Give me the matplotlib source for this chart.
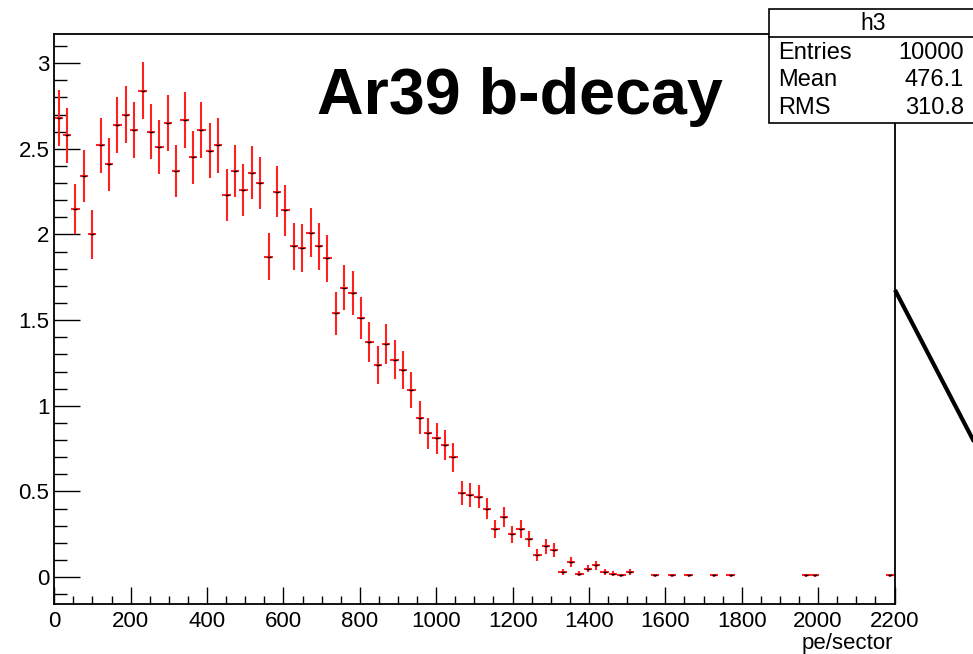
import numpy as np
import matplotlib
matplotlib.use("Agg")
import matplotlib.pyplot as plt
from matplotlib.ticker import MultipleLocator, FuncFormatter
from matplotlib.patches import Rectangle
from matplotlib.lines import Line2D
from matplotlib.transforms import blended_transform_factory

plt.rcParams['font.family'] = ['Liberation Sans', 'DejaVu Sans']

# histogram h3: 100 bins of 22 pe over 0..2200, contents
bin_width = 22.0
n_bins = 100
contents = [
    2.68, 2.58, 2.15, 2.34, 2.00, 2.52, 2.41, 2.64, 2.70, 2.61,
    2.84, 2.60, 2.51, 2.65, 2.37, 2.67, 2.45, 2.61, 2.49, 2.52,
    2.23, 2.37, 2.26, 2.36, 2.30, 1.87, 2.25, 2.14, 1.93, 1.92,
    2.01, 1.93, 1.86, 1.54, 1.69, 1.66, 1.51, 1.37, 1.24, 1.36,
    1.27, 1.21, 1.09, 0.93, 0.84, 0.81, 0.77, 0.70, 0.49, 0.48,
    0.47, 0.40, 0.28, 0.35, 0.25, 0.28, 0.22, 0.13, 0.18, 0.16,
    0.03, 0.09, 0.02, 0.05, 0.07, 0.03, 0.02, 0.01, 0.03, 0.00,
    0.00, 0.01, 0.00, 0.01, 0.00, 0.01, 0.00, 0.00, 0.01, 0.00,
    0.01, 0.00, 0.00, 0.00, 0.00, 0.00, 0.00, 0.00, 0.00, 0.01,
    0.01, 0.00, 0.00, 0.00, 0.00, 0.00, 0.00, 0.00, 0.00, 0.01,
]
scale = 0.01  # histogram was scaled by 1/100, errors are sqrt(N)*scale

title = "Ar39 b-decay"
x_label = "pe/sector"
stats_name = "h3"
stats_rows = [("Entries", "10000"), ("Mean", "476.1"), ("RMS", "310.8")]

W, H = 973, 654
fig = plt.figure(figsize=(W / 100, H / 100), dpi=100)


def fx(px):
    return px / W


def fy(py):
    return (H - py) / H


ax = fig.add_axes([fx(54.3), fy(603.7), fx(894.5) - fx(54.3), fy(34) - fy(603.7)])

y = np.array(contents)
centers = (np.arange(n_bins) + 0.5) * bin_width
err = np.sqrt(y * scale)
keep = y > 0

ax.errorbar(centers[keep], y[keep], xerr=bin_width / 2, yerr=err[keep],
            fmt='none', ecolor='#ff2020', elinewidth=1.5, capsize=0)
ax.plot(centers[keep], y[keep], '_', color='black', ms=3.5, mew=1.0)

ax.set_xlim(0, 2200)
ax.set_ylim(-0.155, 3.17)

ax.xaxis.set_major_locator(MultipleLocator(200))
ax.xaxis.set_minor_locator(MultipleLocator(50))
ax.yaxis.set_major_locator(MultipleLocator(0.5))
ax.yaxis.set_minor_locator(MultipleLocator(0.1))
ax.yaxis.set_major_formatter(FuncFormatter(lambda v, p: "%g" % v))

ax.tick_params(axis='both', which='both', direction='in', top=False, right=False,
               width=1.0, labelsize=16)
ax.tick_params(axis='x', which='major', length=12.2, pad=5.5)
ax.tick_params(axis='x', which='minor', length=5.8)
ax.tick_params(axis='y', which='major', length=18.5, pad=3.6)
ax.tick_params(axis='y', which='minor', length=9.4)

for s in ax.spines.values():
    s.set_linewidth(1.3)

ax.text(0.998, fy(644), x_label, transform=blended_transform_factory(ax.transAxes, fig.transFigure),
        ha='right', va='center', fontsize=16)

fig.text(fx(316.7), fy(114.3), title, fontsize=46.5, fontweight='bold',
         ha='left', va='baseline')

# stats box, cut by the right edge of the picture
fig.patches.append(Rectangle((fx(769.3), fy(123.3)), fx(1000) - fx(769.3), fy(9.3) - fy(123.3),
                             transform=fig.transFigure, facecolor='white',
                             edgecolor='black', linewidth=1.2, zorder=5))
fig.lines.append(Line2D([fx(769.3), fx(1000)], [fy(36.7), fy(36.7)],
                        transform=fig.transFigure, color='black', linewidth=1.2, zorder=6))
fig.text(fx(873), fy(24), stats_name, fontsize=16.5, ha='center', va='center', zorder=7)
row_y = [53, 80.5, 108]
for (name, val), py in zip(stats_rows, row_y):
    fig.text(fx(778), fy(py), name, fontsize=17, ha='left', va='center', zorder=7)
    fig.text(fx(964), fy(py), val, fontsize=17, ha='right', va='center', zorder=7)

# thick black line leaving the frame on the right
fig.lines.append(Line2D([fx(895), fx(1010)], [fy(290), fy(290 + 1.92 * 115)],
                        transform=fig.transFigure, color='black', linewidth=3.0,
                        solid_capstyle='butt'))

fig.savefig("out.png", dpi=100)
